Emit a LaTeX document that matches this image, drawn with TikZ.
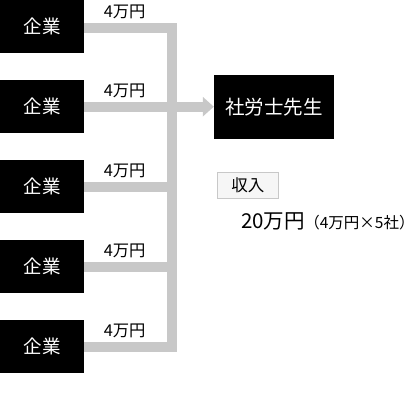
\documentclass[tikz,border=0pt]{standalone}
\usepackage{fontspec}
\setmainfont{Noto Sans CJK JP}
\usetikzlibrary{arrows.meta}
\definecolor{linegray}{RGB}{200,200,200}
\definecolor{boxedge}{RGB}{200,200,200}
\definecolor{boxfill}{RGB}{246,246,246}
\tikzset{
  company/.style={fill=black, text=white, minimum width=84pt, minimum height=53.3pt, inner sep=0pt, font=\fontsize{18.5}{18.5}\selectfont},
  target/.style={fill=black, text=white, minimum width=120pt, minimum height=64pt, inner sep=0pt, font=\fontsize{19.5}{19.5}\selectfont},
  flow/.style={draw=linegray, line width=10pt, line join=miter},
  amount/.style={font=\fontsize{16.3}{16.3}\selectfont, inner sep=0pt},
  tagbox/.style={draw=boxedge, fill=boxfill, line width=1pt, minimum width=61pt, minimum height=26.4pt, inner sep=0pt, font=\fontsize{16.5}{16.5}\selectfont},
}
\begin{document}
\begin{tikzpicture}[x=1pt,y=-1pt]
\useasboundingbox (0,0) rectangle (417,420);
% companies
\node[company] (c1) at (42,26.7) {企業};
\node[company] (c2) at (42,106.7) {企業};
\node[company] (c3) at (42,186.7) {企業};
\node[company] (c4) at (42,266.7) {企業};
\node[company] (c5) at (42,346.7) {企業};
% target
\node[target] (s) at (274,107) {社労士先生};
% junctions
\coordinate (j1) at (171.7,28.3);
\coordinate (j2) at (171.7,106.7);
\coordinate (j3) at (171.7,186.7);
\coordinate (j4) at (171.7,266.7);
\coordinate (j5) at (171.7,346.7);
% flows
\draw[flow] (c1.east |- j1) -- (j1) -- (j5) -- (c5.east |- j5);
\draw[flow] (c3.east |- j3) -- (j3);
\draw[flow] (c4.east |- j4) -- (j4);
\draw[flow, -{Triangle[length=11pt,width=19pt]}] (c2.east |- j2) -- (s.west |- j2);
% amount labels
\node[amount] (a1) at (124.7,12.3) {4万円};
\node[amount] (a2) at (124.7,90.5) {4万円};
\node[amount] (a3) at (124.7,170.5) {4万円};
\node[amount] (a4) at (124.7,250.5) {4万円};
\node[amount] (a5) at (124.7,330.5) {4万円};
% income
\node[tagbox] (inc) at (247.8,185.5) {収入};
\node[anchor=base west, inner sep=0pt, font=\fontsize{20.5}{20.5}\selectfont] (tot) at (241,228) {20万円};
\node[anchor=base west, inner sep=0pt, font=\fontsize{15.5}{15.5}\selectfont] (det) at ([xshift=-1pt]tot.base east) {（4万円×5社\makebox[0.45em][l]{）}};
\end{tikzpicture}
\end{document}
